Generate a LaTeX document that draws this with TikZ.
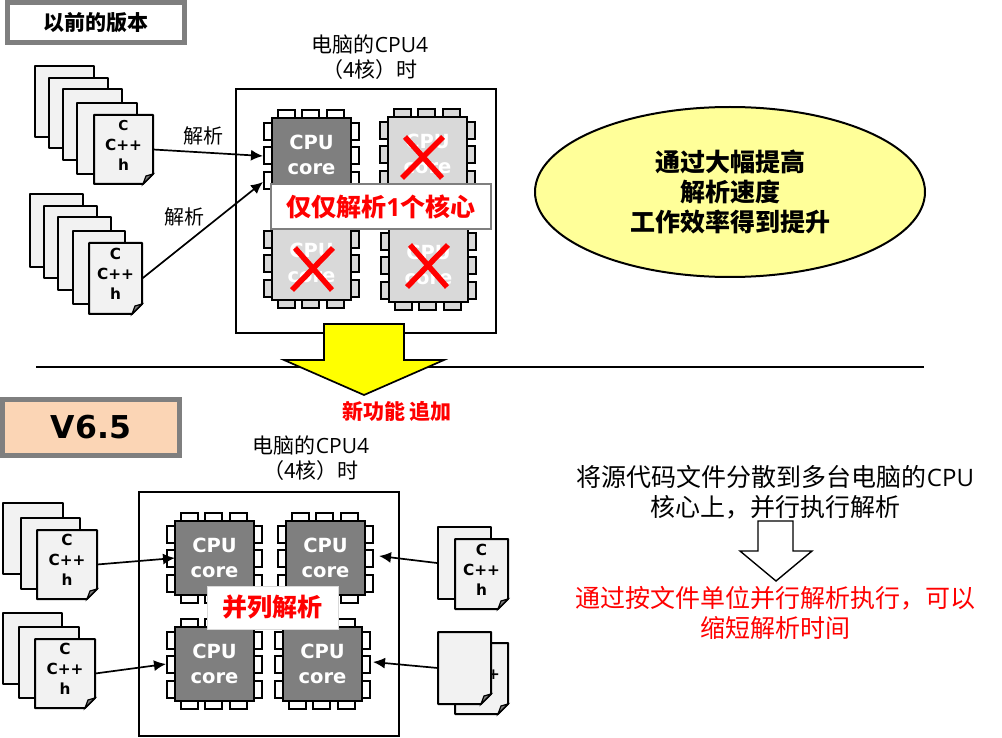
\documentclass[tikz,border=0pt]{standalone}
\usepackage{fontspec}
\setmainfont{Open Sans}
\newfontfamily\cjk{Noto Sans CJK SC}
\newfontfamily\widefont{DejaVu Sans}
\usetikzlibrary{arrows.meta,shapes.geometric}
\definecolor{chipdark}{HTML}{7F7F7F}
\definecolor{chiplight}{HTML}{D9D9D9}
\definecolor{sheetgray}{HTML}{F2F2F2}
\definecolor{ellipsey}{HTML}{FFFF99}
\definecolor{peach}{HTML}{FBD5B5}
\definecolor{arrowy}{HTML}{FFFF00}
\definecolor{alertred}{HTML}{FF0000}
\tikzset{
	framebox/.style={draw,line width=2pt},
	sheetbox/.style={draw,line width=2pt,fill=sheetgray,line join=round},
	pinbox/.style={draw,line width=2pt},
	flow/.style={line width=1.7pt,-{Latex[length=12pt,width=11pt]}},
	crossmark/.style={alertred,line width=5.5pt},
	caption/.style={font=\fontsize{21}{25}\selectfont,align=center,inner sep=0pt},
	docword/.style={font=\widefont\fontsize{15.3}{20}\selectfont\bfseries,align=center,inner sep=0pt},
	chipword/.style={font=\widefont\fontsize{19.5}{25}\selectfont\bfseries,align=center,inner sep=0pt,text=white},
	sideline/.style={font=\cjk\fontsize{25}{30}\selectfont,align=center,inner sep=0pt},
}
% tờ giấy: tên, x trái, y trên, x phải, y dưới
\newcommand{\blanksheet}[5]{
	\node[sheetbox,inner sep=0pt,minimum width=#4pt-#2pt,minimum height=#5pt-#3pt] (#1) at ({(#2+#4)/2},{(#3+#5)/2}) {};
}
% tờ giấy có góc gấp và chữ
\newcommand{\docsheet}[6]{
	\node (#1) at ({(#2+#4)/2},{(#3+#5)/2}) [minimum width=#4pt-#2pt,minimum height=#5pt-#3pt,inner sep=0pt] {};
	\draw[sheetbox] (#2,#3) -- (#4,#3) -- (#4,#5-10) -- (#4-10,#5) -- (#2,#5) -- cycle;
	\draw[line width=1.2pt,fill=chipdark] (#4,#5-10) -- (#4-7,#5-8) -- (#4-10,#5) -- cycle;
	\node[docword] (#1word) at ({(#2+#4)/2},{(#3+#5)/2-4.5}) {#6};
}
% lõi CPU: tên, x trái, y trên, màu thân, màu chân
\newcommand{\cpuchip}[5]{
	\foreach \off in {5,29,54} {
		\draw[pinbox,fill=#5] (#2+\off+1,#3) rectangle ++(17,-8);
		\draw[pinbox,fill=#5] (#2+\off+1,#3+74) rectangle ++(17,8);
		\draw[pinbox,fill=#5] (#2,#3+\off) rectangle ++(-8,17);
		\draw[pinbox,fill=#5] (#2+79,#3+\off) rectangle ++(8,17);
	}
	\node[draw,line width=2pt,fill=#4,minimum width=79pt,minimum height=74pt,inner sep=0pt,chipword] (#1) at (#2+39.5,#3+37) {CPU\\core};
}
\begin{document}
\begin{tikzpicture}[x=1pt,y=-1pt]
	\useasboundingbox (0,0) rectangle (1002,738);
	% phần trên
	\node[draw=chipdark,line width=5pt,fill=white,minimum width=177pt,minimum height=40pt,inner sep=0pt,font=\cjk\fontsize{21}{24}\selectfont\bfseries] (oldtitle) at (96,22.5) {以前的版本};
	\node[framebox,minimum width=260pt,minimum height=244pt] (oldframe) at (366,211) {};
	\node[caption] (oldcaption) at (370,57.5) {{\cjk 电脑的}CPU4\\{\cjk （4核）时}};
	\cpuchip{oldA}{272}{118}{chipdark}{white}
	\cpuchip{oldB}{388}{117}{chiplight}{chiplight}
	\cpuchip{oldC}{272}{226}{chiplight}{chiplight}
	\cpuchip{oldD}{389}{228}{chiplight}{chiplight}
	\draw[crossmark] (402,178) -- (443,137) (405,137) -- (442,178);
	\draw[crossmark] (292,290) -- (333,248) (295,248) -- (332,290);
	\draw[crossmark] (407,287) -- (448,245) (410,245) -- (447,287);
	\node[draw=chipdark,line width=2pt,fill=white,minimum width=220pt,minimum height=45pt,inner sep=0pt,text=alertred,font=\fontsize{25}{28}\selectfont\bfseries] (onecore) at (381,206.5) {{\cjk 仅仅解析}1{\cjk 个核心}};
	\blanksheet{sheetA}{35}{66}{94}{137}
	\blanksheet{sheetB}{49}{78}{108}{148}
	\blanksheet{sheetC}{63}{89}{122}{160}
	\blanksheet{sheetD}{77}{103}{137}{174}
	\docsheet{docA}{94}{115}{153}{184}{\fontsize{13.7}{18}\selectfont C\\C++\\h}
	\blanksheet{sheetE}{30}{194}{83}{267}
	\blanksheet{sheetF}{44}{206}{97}{278}
	\blanksheet{sheetG}{58}{217}{111}{290}
	\blanksheet{sheetH}{73}{231}{125}{304}
	\docsheet{docB}{89}{243}{142}{314}{C\\C++\\h}
	\coordinate (pinA) at (263,156);
	\coordinate (pinB) at (263,182);
	\draw[flow] (docA.east) -- (pinA);
	\draw[flow] (docB.east) -- (pinB);
	\node[caption,font=\cjk\fontsize{20}{24}\selectfont] (parseA) at (203,136) {解析};
	\node[caption,font=\cjk\fontsize{20}{24}\selectfont] (parseB) at (184,217) {解析};
	\node[draw,line width=2pt,fill=ellipsey,shape=ellipse,minimum width=390pt,minimum height=170pt,inner sep=0pt,align=center,font=\cjk\fontsize{25}{30}\selectfont\bfseries] (gain) at (730,192) {通过大幅提高\\解析速度\\工作效率得到提升};
	% phần giữa
	\coordinate (ruleL) at (36,367);
	\coordinate (ruleR) at (924,367);
	\draw[line width=2pt] (ruleL) -- (ruleR);
	\draw[line width=1.7pt,fill=arrowy,line join=miter] (324,324) -- (404,324) -- (404,360) -- (444,360) -- (364,395) -- (284,360) -- (324,360) -- cycle;
	\node[text=alertred,inner sep=0pt,font=\cjk\fontsize{21}{24}\selectfont\bfseries] (newfeature) at (397,411) {新功能 追加};
	% phần dưới
	\node[draw=chipdark,line width=4.5pt,fill=peach,minimum width=177pt,minimum height=56pt,inner sep=0pt,font=\widefont\fontsize{31.5}{36}\selectfont\bfseries] (version) at (91,427.5) {V6.5};
	\node[framebox,minimum width=260pt,minimum height=244pt] (newframe) at (269,614) {};
	\node[caption] (newcaption) at (311,458.5) {{\cjk 电脑的}CPU4\\{\cjk （4核）时}};
	\cpuchip{newA}{175}{521}{chipdark}{white}
	\cpuchip{newB}{286}{521}{chipdark}{white}
	\cpuchip{newC}{175}{627}{chipdark}{white}
	\cpuchip{newD}{283}{627}{chipdark}{white}
	\node[fill=white,draw=black!15,line width=1pt,minimum width=131pt,minimum height=43pt,inner sep=0pt,text=alertred,font=\cjk\fontsize{25}{28}\selectfont\bfseries] (parallel) at (272.5,607.5) {并列解析};
	\blanksheet{sheetI}{3}{503}{63}{574}
	\blanksheet{sheetJ}{21}{518}{80}{589}
	\docsheet{docC}{37}{530}{97}{599}{C\\C++\\h}
	\blanksheet{sheetK}{3}{613}{62}{684}
	\blanksheet{sheetL}{19}{627}{79}{698}
	\docsheet{docD}{35}{639}{95}{708}{C\\C++\\h}
	\blanksheet{sheetM}{438}{527}{491}{599}
	\docsheet{docE}{455}{539}{508}{609}{C\\C++\\h}
	\docsheet{docF}{455}{643}{508}{714}{C\\C++\\h}
	\docsheet{docG}{438}{632}{491}{704}{}
	\coordinate (pinC) at (175,558);
	\coordinate (pinD) at (166,664);
	\coordinate (pinE) at (379,556);
	\coordinate (pinF) at (373,662);
	\draw[flow] (docC.east) -- (pinC);
	\draw[flow] (docD.east) -- (pinD);
	\draw[flow] (sheetM.west) -- (pinE);
	\draw[flow] (docG.west) -- (pinF);
	\node[sideline] (spread) at (775.5,492) {将源代码文件分散到多台电脑的{\rmfamily\fontsize{24}{30}\selectfont CPU}\\核心上，并行执行解析};
	\draw[line width=1.4pt,fill=white] (758,521) -- (793,521) -- (793,551) -- (812,551) -- (776,581) -- (740,551) -- (758,551) -- cycle;
	\node[sideline,text=alertred] (shorten) at (775.5,612.5) {通过按文件单位并行解析执行，可以\\缩短解析时间};
\end{tikzpicture}
\end{document}
